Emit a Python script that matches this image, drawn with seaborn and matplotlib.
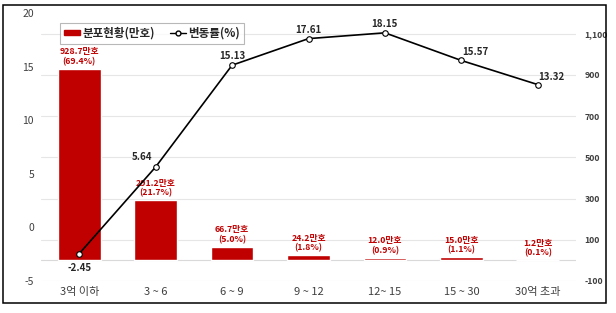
import matplotlib
matplotlib.use("Agg")
import matplotlib.pyplot as plt
import seaborn as sns
import pandas as pd
from matplotlib.patches import Patch, Rectangle
from matplotlib.lines import Line2D

categories = ["3억 이하", "3 ~ 6", "6 ~ 9", "9 ~ 12", "12~ 15", "15 ~ 30", "30억 초과"]
counts = [928.7, 291.2, 66.7, 24.2, 12.0, 15.0, 1.2]
shares = [69.4, 21.7, 5.0, 1.8, 0.9, 1.1, 0.1]
changes = [-2.45, 5.64, 15.13, 17.61, 18.15, 15.57, 13.32]
left_ticks = [-5, 0, 5, 10, 15, 20]
right_ticks = [-100, 100, 300, 500, 700, 900, 1100]

sns.set_theme(style="white")
plt.rcParams['font.family'] = ['Noto Sans CJK KR', 'DejaVu Sans']
plt.rcParams['axes.unicode_minus'] = False

df = pd.DataFrame({"cat": categories, "count": counts, "share": shares, "chg": changes})

fig = plt.figure(figsize=(6.16, 3.13), dpi=100)
fig.patch.set_facecolor("white")
ax = fig.add_axes([41/616, 32/313, 535/616, 268/313])

RED = "#C00000"
sns.barplot(data=df, x="cat", y="count", color=RED, width=0.56, ax=ax,
            saturation=1, zorder=2)
ax.set_ylim(-100, 1200)
ax.set_yticks(right_ticks)
ax.set_yticklabels([f"{t:,}" for t in right_ticks])
ax.grid(axis="y", color="#E6E6E6", linewidth=0.8, zorder=0)
ax.axhline(0, color="#D9D9D9", linewidth=0.8, zorder=1)
ax.set_xlabel("")
ax.set_ylabel("")
for i, (c, s) in enumerate(zip(counts, shares)):
    ax.text(i, c + 14, f"{c:.1f}만호\n({s:.1f}%)", ha="center", va="bottom",
            color=RED, fontsize=6.3, fontweight="bold", linespacing=1.1, zorder=5)

ax2 = ax.twinx()
sns.lineplot(data=df, x="cat", y="chg", ax=ax2, color="black", linewidth=1.2,
             marker="o", markersize=4, markerfacecolor="white",
             markeredgecolor="black", markeredgewidth=0.8, sort=False, zorder=4)
ax2.set_ylim(-5, 20)
ax2.set_yticks(left_ticks)
ax2.set_yticklabels([str(t) for t in left_ticks])
ax2.set_ylabel("")
ax2.set_xlabel("")
ax.yaxis.tick_right()
ax2.yaxis.tick_left()

offsets = [(0, -9, "center", "top"), (-14, 5, "center", "bottom"),
           (0, 4, "center", "bottom"), (0, 4, "center", "bottom"),
           (0, 4, "center", "bottom"), (14, 3, "center", "bottom"),
           (14, 3, "center", "bottom")]
for i, v in enumerate(changes):
    dx, dy, ha, va = offsets[i]
    ax2.annotate(f"{v:.2f}", (i, v), xytext=(dx * 0.72, dy * 0.72),
                 textcoords="offset points", ha=ha, va=va,
                 fontsize=7, fontweight="bold", color="#262626", zorder=6)

for a in (ax, ax2):
    for sp in a.spines.values():
        sp.set_visible(False)
    a.tick_params(length=0)
ax.tick_params(axis="y", labelsize=6.3, labelcolor="#404040", pad=6)
ax2.tick_params(axis="y", labelsize=7.5, labelcolor="#404040", pad=5)
ax.tick_params(axis="x", labelsize=8, labelcolor="#404040", pad=4)
for lbl in ax.get_yticklabels():
    lbl.set_fontweight("bold")
ax.set_xlim(-0.5, len(categories) - 0.5)

handles = [Patch(facecolor=RED, edgecolor=RED),
           Line2D([], [], color="black", linewidth=1, marker="o", markersize=3.5,
                  markerfacecolor="white", markeredgecolor="black")]
leg = ax2.legend(handles, ["분포현황(만호)", "변동률(%)"], loc="upper left",
                 bbox_to_anchor=(0.025, 0.985), ncol=2, frameon=True, fancybox=False,
                 prop={"size": 8.3, "weight": "bold"}, handlelength=1.4,
                 handleheight=0.35, handletextpad=0.2, columnspacing=1.3,
                 borderpad=0.35, edgecolor="#A6A6A6")
leg.get_frame().set_linewidth(0.8)
for t in leg.get_texts():
    t.set_color("#262626")

fig.patches.append(Rectangle((3/616, 10/313), 603/616, 298/313, transform=fig.transFigure,
                             fill=False, edgecolor="black", linewidth=1.1))

fig.savefig("out.png", dpi=100, facecolor="white")
